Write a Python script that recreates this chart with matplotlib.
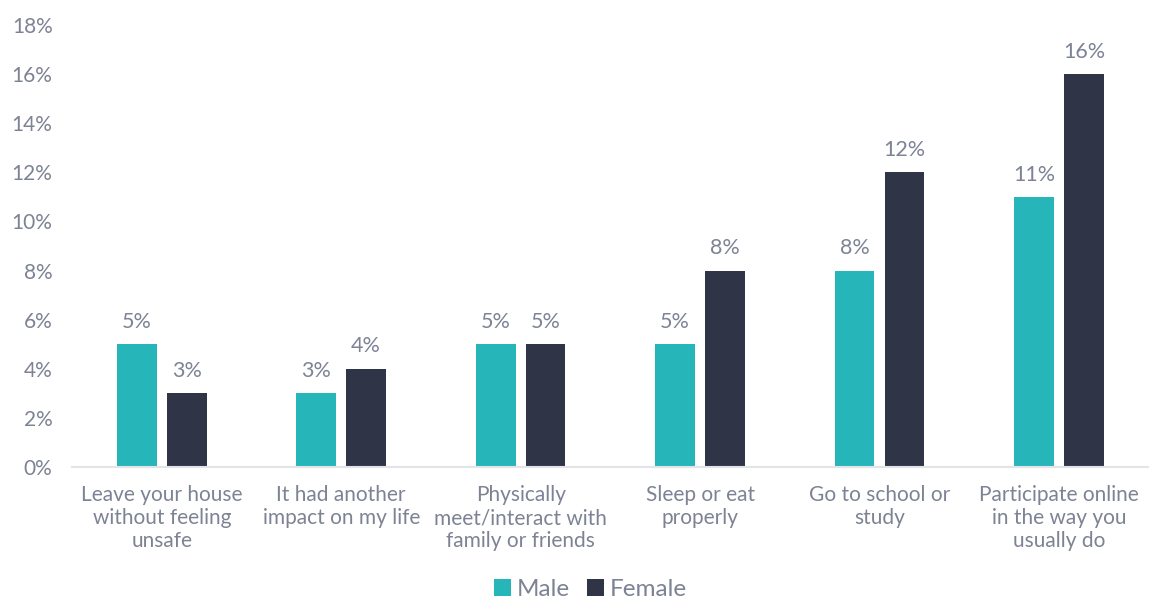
import matplotlib
matplotlib.use("Agg")
import matplotlib.pyplot as plt
import numpy as np

categories = [
    "Leave your house\nwithout feeling\nunsafe",
    "It had another\nimpact on my life",
    "Physically\nmeet/interact with\nfamily or friends",
    "Sleep or eat\nproperly",
    "Go to school or\nstudy",
    "Participate online\nin the way you\nusually do",
]
male = [5, 3, 5, 5, 8, 11]
female = [3, 4, 5, 8, 12, 16]
yticks = [0, 2, 4, 6, 8, 10, 12, 14, 16, 18]

MALE_COLOR = "#26b5b8"
FEMALE_COLOR = "#2f3447"
TEXT_COLOR = "#7d8394"

plt.rcParams['font.family'] = ['Lato', 'DejaVu Sans']

fig = plt.figure(figsize=(11.49, 6), dpi=100)
ax = fig.add_axes([0.0627, 0.2217, 0.937, 0.7366])

x = np.arange(len(categories))
w = 0.222
off = 0.139
b1 = ax.bar(x - off, male, w, color=MALE_COLOR, label="Male")
b2 = ax.bar(x + off, female, w, color=FEMALE_COLOR, label="Female")

# value labels above bars
for bars, vals in ((b1, male), (b2, female)):
    for b, v in zip(bars, vals):
        ax.text(b.get_x() + b.get_width() / 2, v + 0.5, f"{v}%",
                ha="center", va="bottom", fontsize=15.5, color=TEXT_COLOR)

ax.set_xlim(-0.5, len(categories) - 0.5)
ax.set_ylim(0, 18)
ax.set_yticks(yticks)
ax.set_yticklabels([f"{t}%" for t in yticks])
ax.set_xticks(x)
ax.set_xticklabels(categories, fontsize=15, color=TEXT_COLOR, linespacing=1.2,
                   va="top")

ax.tick_params(axis="y", length=0, labelsize=15, labelcolor=TEXT_COLOR, pad=14)
ax.tick_params(axis="x", length=0, pad=13)
for s in ("top", "right", "left"):
    ax.spines[s].set_visible(False)
ax.spines["bottom"].set_color("#e3e4e8")
ax.spines["bottom"].set_linewidth(1.5)

leg = fig.legend(handles=[b1, b2], loc="lower center", bbox_to_anchor=(0.514, -0.036),
                 ncol=2, frameon=False, fontsize=17.5, handlelength=0.7, handleheight=0.7,
                 handletextpad=0.25, columnspacing=0.7)
for t in leg.get_texts():
    t.set_color(TEXT_COLOR)

fig.savefig("out.png", dpi=100)
